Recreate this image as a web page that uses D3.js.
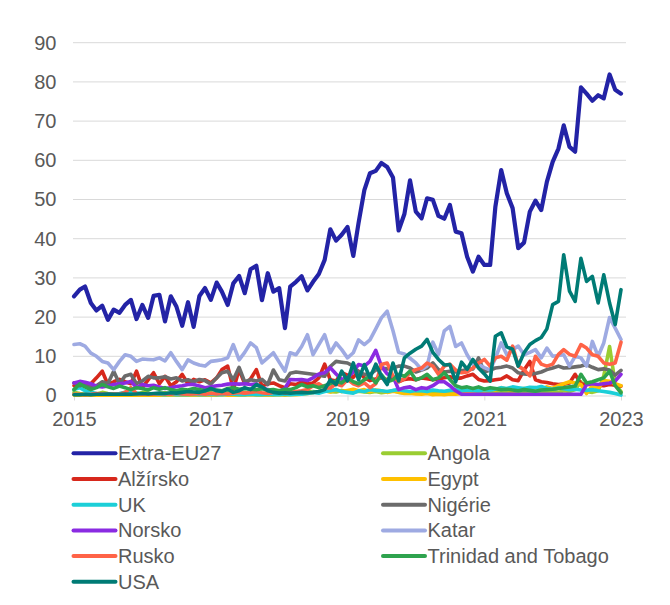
<!DOCTYPE html>
<html>
<head>
<meta charset="utf-8">
<script src="https://cdn.jsdelivr.net/npm/d3@7"></script>
<style>
  html, body { margin: 0; padding: 0; background: #fff; }
  svg { display: block; font-family: "Liberation Sans", Arial, sans-serif; }
</style>
</head>
<body>
<svg id="chart" width="670" height="605"></svg>
<script>
// ---- data (monthly, Jan 2015 – Jan 2023) ----
const startMonth = "2015-01";
const monthCount = 97;
const yTicks = [0, 10, 20, 30, 40, 50, 60, 70, 80, 90];
const xTickLabels = ["2015", "2017", "2019", "2021", "2023"];

const seriesNames = ["Extra-EU27", "Angola", "Alžírsko", "Egypt", "UK", "Nigérie",
                     "Norsko", "Katar", "Rusko", "Trinidad and Tobago", "USA"];
const seriesColors = ["#2323A6", "#9ACD32", "#D7281C", "#FFC000", "#1CCFD8", "#6B6B6B",
                      "#8A2BE2", "#9EAAE2", "#FF6347", "#2EA34E", "#007B75"];

const extraEU27 = [25.3,27,27.8,23.6,21.7,22.9,19.3,21.9,21.1,23.1,
  24.4,19.5,23.1,19.8,25.4,25.7,18.9,25.3,22.7,17.8,
  23.8,17.5,25.4,27.4,24.4,28.8,26.5,23.1,28.6,30.5,
  26.1,32.2,33.1,24.3,31.2,26.5,27.4,17.2,27.8,29,
  30.4,26.8,29,31,34.6,42.4,39.5,41,43,35.6,
  44,52.4,56.7,57.3,59.3,58.3,55.6,42.1,46.3,54.9,
  46.9,45.2,50.3,49.9,45.8,45.1,48.6,41.8,41.4,35.4,
  31.6,35.4,33.3,33.3,48.2,57.5,51.6,47.8,37.6,39.0,
  46.9,49.7,47.3,54.5,59.6,63.0,68.9,63.4,62.2,78.6,
  77.0,75.2,76.6,75.8,81.9,78.0,77.0];
const angola = [0.8,0.5,0.3,0.6,0.4,0.8,0.5,0.3,0.4,0.6,
  0.5,0.4,0.8,0.6,0.3,0.5,0.7,0.4,0.5,0.3,
  0.6,0.4,0.5,0.8,0.6,0.4,0.5,0.7,0.5,0.6,
  0.8,0.5,0.6,0.4,0.7,0.5,0.3,0.6,0.8,0.5,
  0.7,0.9,1.0,0.8,1.2,1.0,0.9,1.3,1.0,0.8,
  1.1,0.9,0.8,1.0,0.7,0.9,1.2,0.8,0.6,0.9,
  0.7,0.8,0.6,0.9,0.7,0.8,1.0,0.6,0.8,0.7,
  0.9,0.6,0.8,0.7,0.9,1.0,0.8,0.7,0.9,0.8,
  1.0,0.8,0.7,0.9,1.0,0.8,1.2,1.0,1.5,3.5,
  1.0,0.8,1.2,5.0,12.5,3.0,1.0];
const alzirsko = [2.5,2.8,2.5,3.0,4.5,6.2,2.8,3.5,4.1,3.5,
  3.0,6.2,2.0,4.0,5.8,3.0,4.9,2.5,3.5,5.4,
  3.0,4.1,3.5,4.0,3.2,4.5,6.6,7.5,1.5,6.6,
  3.0,4.2,6.6,2.4,3.0,3.2,2.5,2.0,3.0,2.8,
  3.5,3.0,3.2,4.5,8.0,4.0,3.7,5.8,5.2,4.6,
  6.2,4.5,3.8,4.2,4.5,4.0,4.8,3.5,4.1,4.3,
  4.0,4.5,4.3,4.0,4.2,4.5,4.8,4.3,4.5,5.0,
  5.4,4.1,3.7,3.8,4.0,4.2,5.0,4.0,3.8,6.5,
  8.7,4.0,3.5,3.3,3.0,2.8,2.9,3.2,5.4,3.0,
  2.8,2.9,2.6,2.5,2.8,2.6,2.4];
const egypt = [0.1,0.1,0.1,0.1,0.1,0.1,0.1,0.1,0.1,0.1,
  0.1,0.1,0.1,0.1,0.1,0.1,0.1,0.1,0.1,0.1,
  0.1,0.1,0.1,0.1,0.1,0.1,0.2,0.1,0.1,0.1,
  0.1,0.2,0.1,0.1,0.1,0.1,0.2,0.1,0.2,0.2,
  0.3,0.5,0.8,1.0,1.2,0.9,1.5,1.0,1.3,1.6,
  1.2,1.5,1.0,1.4,1.2,0.8,1.1,0.9,0.5,0.6,
  0.4,0.3,0.5,0.2,0.3,0.2,0.4,0.3,0.5,0.8,
  1.0,1.5,1.2,1.8,1.4,2.0,1.6,1.2,1.5,1.8,
  1.4,2.0,1.6,2.2,1.8,2.5,3.0,3.5,3.2,2.8,
  0.5,2.5,1.8,3.8,3.6,3.0,2.5];
const uk = [1.5,2.0,1.2,0.8,0.5,0.4,0.3,0.3,0.5,0.8,
  1.0,0.6,0.4,0.3,0.3,0.3,0.2,0.3,0.2,0.2,
  0.2,0.3,0.2,0.2,0.3,0.2,0.2,0.3,0.3,0.2,
  0.2,0.3,0.2,0.2,0.3,0.2,0.2,0.3,0.2,0.3,
  0.3,0.5,0.8,0.6,1.0,1.2,1.5,1.0,0.8,0.6,
  1.2,1.0,1.5,1.3,1.2,1.0,1.3,1.5,1.2,1.0,
  1.3,1.2,1.0,1.4,1.2,1.1,1.3,1.5,1.2,1.4,
  1.3,1.2,1.5,1.4,1.6,2.0,1.8,2.2,2.0,1.8,
  2.1,2.0,2.3,1.8,1.6,1.9,1.7,1.5,1.6,1.4,
  1.3,1.5,1.2,1.0,0.8,0.5,0.1];
const nigerie = [3.2,2.5,3.0,2.0,2.5,3.5,3.0,6.2,3.0,5.0,
  5.4,3.0,3.7,4.9,4.5,4.5,4.8,4.2,4.5,3.7,
  4.0,3.5,4.1,3.8,2.9,4.5,5.8,6.2,4.0,7.2,
  3.5,4.0,3.7,4.1,2.8,6.5,4.0,3.7,5.7,6.0,
  5.8,5.6,5.4,5.2,4.9,7.4,8.7,8.5,8.3,7.5,
  6.0,5.4,5.4,6.5,7.0,6.8,7.0,7.5,7.5,7.0,
  6.0,6.5,7.0,8.3,6.6,6.0,6.2,6.0,6.3,6.6,
  6.8,9.6,6.0,6.5,7.0,7.2,7.5,7.0,5.8,5.5,
  5.4,5.6,6.0,6.6,7.0,7.5,7.0,7.1,7.3,7.5,
  7.9,7.2,6.6,6.8,6.5,5.2,6.4];
const norsko = [3.2,3.6,3.4,3.0,2.4,2.2,2.4,2.8,3.0,3.2,
  3.6,2.0,2.8,2.5,2.6,2.2,1.8,2.0,2.3,2.5,
  2.8,2.8,2.4,2.0,2.2,2.5,2.6,2.9,3.0,2.9,
  3.0,2.8,2.9,2.0,1.5,1.2,1.0,1.8,4.1,4.0,
  4.1,3.8,4.5,5.5,5.8,7.1,5.5,4.1,4.5,6.0,
  7.9,7.5,8.7,11.5,7.5,5.5,4.9,1.5,2.0,2.2,
  1.5,2.0,1.8,2.5,3.5,3.5,2.5,1.2,0.3,0.3,
  0.3,0.3,0.3,0.3,0.3,0.3,0.3,0.3,0.3,0.3,
  0.3,0.3,0.3,0.3,0.3,0.3,0.3,0.3,0.3,0.3,
  2.8,3.0,2.8,3.0,3.2,3.7,5.4];
const katar = [13,13.2,12.6,10.8,10,8.7,8.3,6.6,8.7,10.4,
  10,8.7,9.3,9.2,9.1,9.6,8.8,10.9,8.7,6.6,
  9.1,8.3,7.8,7.5,8.7,8.9,9.1,9.6,13,9.1,
  11,13.4,12.2,8.3,9.6,10.9,8.5,6.2,10.9,10.4,
  12.5,15.5,10.4,13,15.5,10.9,13.4,11.7,9.6,10.9,
  14.2,13,14.2,17,19.8,21.5,16.5,11,10.6,9.5,
  8.3,6.6,7.5,13.6,10.5,16.5,17.6,12.5,13.4,10.4,
  8,7.9,7.1,6.5,9.5,13.4,10.4,11.7,12.6,10.4,
  11,11.7,9.6,12.1,10,10.2,10.4,7.5,10,9.6,
  7.5,13.8,10,13.4,19.9,17.2,14.3];
const rusko = [0.3,0.3,0.2,0.3,0.5,0.4,0.3,0.4,0.3,0.8,
  2.0,0.5,0.3,0.4,0.3,0.5,0.4,0.3,0.6,0.4,
  0.3,0.4,0.5,0.3,0.6,0.4,0.5,0.4,0.6,0.8,
  0.6,0.8,1.0,0.7,0.5,0.8,1.2,0.6,0.8,1.0,
  1.2,1.5,2.5,3.0,2.0,1.9,3.0,2.5,4.1,3.0,
  2.5,3.2,2.0,3.0,7.9,8.3,4.9,3.5,4.3,5.8,
  6.6,7.0,8.3,7.5,5.4,7.5,8.0,6.5,5.8,6.0,
  7.0,8.3,9.2,7.5,9.6,10.0,9.0,12.6,7.5,6.6,
  5.0,10.0,8.0,7.5,8.0,10.5,11.7,10.5,10.0,13.0,
  12.1,10.4,10.0,8.3,8.0,8.3,13.6];
const trinidad = [1.5,3.0,2.2,1.5,2.0,2.8,2.2,1.8,2.4,2.0,
  1.5,2.0,1.8,1.4,2.0,1.6,2.0,1.5,1.2,1.6,
  1.4,1.8,1.5,1.2,1.6,1.4,1.2,1.8,2.0,1.6,
  1.8,1.6,1.5,1.7,1.4,1.5,1.2,1.6,1.5,2.0,
  2.8,2.2,2.5,2.0,2.5,3.0,3.7,3.2,4.5,3.5,
  3.0,4.0,5.0,3.2,5.3,3.5,4.0,5.4,4.9,6.2,
  4.0,4.5,5.4,4.0,4.5,5.8,4.1,2.5,2.0,2.2,
  1.8,2.2,1.6,2.0,1.8,1.5,1.6,1.4,1.2,1.5,
  1.3,1.1,1.4,1.5,1.6,1.8,2.0,2.2,2.4,5.4,
  3.2,3.5,4.0,4.5,6.2,2.5,0.7];
const usa = [0.2,0.2,0.3,0.2,0.3,0.3,0.4,0.3,0.3,0.4,
  0.3,0.4,0.5,0.4,0.5,0.6,0.5,0.7,0.6,0.8,
  1.0,0.9,0.8,1.2,1.8,1.2,1.0,1.6,0.8,1.2,
  2.0,1.5,2.8,2.2,1.2,0.8,0.6,0.7,0.6,0.7,
  0.8,0.7,0.8,1.0,1.5,4.0,2.8,6.2,3.7,8.3,
  4.0,7.9,4.5,8.0,5.0,2.8,8.3,3.7,9.6,10.8,
  11.8,12.6,14.3,11.0,9.2,7.8,7.9,3.5,8.5,6.7,
  9.2,7.0,5.5,3.7,15.1,16.0,12.4,11.8,7.5,10.9,
  13.0,14.0,14.8,17.0,23.2,24.0,35.9,26.6,24.0,35.0,
  29.1,30.4,23.6,30.8,23.6,18.1,27.0];

const seriesValues = [extraEU27, angola, alzirsko, egypt, uk, nigerie,
                      norsko, katar, rusko, trinidad, usa];

// ---- build ----
const parseMonth = d3.timeParse("%Y-%m");
const months = d3.timeMonth.range(parseMonth(startMonth),
  d3.timeMonth.offset(parseMonth(startMonth), monthCount));
const series = seriesNames.map((name, k) => ({
  name, color: seriesColors[k],
  values: seriesValues[k].map((v, i) => ({ date: months[i], value: v }))
}));

const svg = d3.select("#chart");
const plotLeft = 74, plotRight = 621, plotTop = 42.7, plotBottom = 395.5;
const textColor = "#595959";
const fontSize = 20;
const fontFamily = "Liberation Sans, Arial, sans-serif";

const x = d3.scaleTime()
  .domain([parseMonth("2015-01"), parseMonth("2023-01")])
  .range([plotLeft, plotRight]);
const y = d3.scaleLinear().domain([0, 90]).range([plotBottom, plotTop]);

// gridlines
svg.append("g").selectAll("line").data(yTicks.filter(t => t > 0)).join("line")
  .attr("x1", plotLeft - 1).attr("x2", 626)
  .attr("y1", d => y(d)).attr("y2", d => y(d))
  .attr("stroke", "#D9D9D9").attr("stroke-width", 1);

// y axis labels
const yAxis = svg.append("g").attr("transform", `translate(${plotLeft - 1},0)`)
  .call(d3.axisLeft(y).tickValues(yTicks).tickSize(0).tickPadding(16.5).tickFormat(d3.format("d")));
yAxis.select(".domain").remove();
yAxis.selectAll("text").attr("fill", textColor).attr("font-size", fontSize)
  .attr("font-family", fontFamily);

// x axis
const xTickDates = xTickLabels.map(s => d3.timeParse("%Y")(s));
const xAxis = svg.append("g").attr("transform", `translate(0,${plotBottom})`)
  .call(d3.axisBottom(x).tickValues(xTickDates).tickSize(5).tickPadding(11)
    .tickFormat(d3.timeFormat("%Y")));
xAxis.select(".domain").attr("d", `M${plotLeft - 1},0.5H626`).attr("stroke", "#D9D9D9");
xAxis.selectAll(".tick line").attr("stroke", "#D9D9D9");
xAxis.selectAll("text").attr("fill", textColor).attr("font-size", fontSize)
  .attr("font-family", fontFamily);

// lines
const line = d3.line().x(d => x(d.date)).y(d => y(d.value));
svg.append("g").selectAll("path").data(series).join("path")
  .attr("d", d => line(d.values))
  .attr("fill", "none")
  .attr("stroke", d => d.color)
  .attr("stroke-width", d => d.name === "Extra-EU27" ? 4.2 : 3.6)
  .attr("stroke-linejoin", "round")
  .attr("stroke-linecap", "round");

// legend (two columns, filled row-wise)
const legendTop = 453.3, rowH = 25.7;
const colX = [73.5, 383];
const lg = svg.append("g").selectAll("g").data(series).join("g")
  .attr("transform", (d, k) => `translate(${colX[k % 2]},${legendTop + Math.floor(k / 2) * rowH})`);
lg.append("line").attr("x1", 0).attr("x2", 42).attr("y1", 0).attr("y2", 0)
  .attr("stroke", d => d.color).attr("stroke-width", 4).attr("stroke-linecap", "round");
lg.append("text").attr("x", 44.5).attr("y", 0).attr("dy", "0.35em")
  .attr("fill", textColor).attr("font-size", fontSize).attr("font-family", fontFamily)
  .text(d => d.name);
</script>
</body>
</html>
